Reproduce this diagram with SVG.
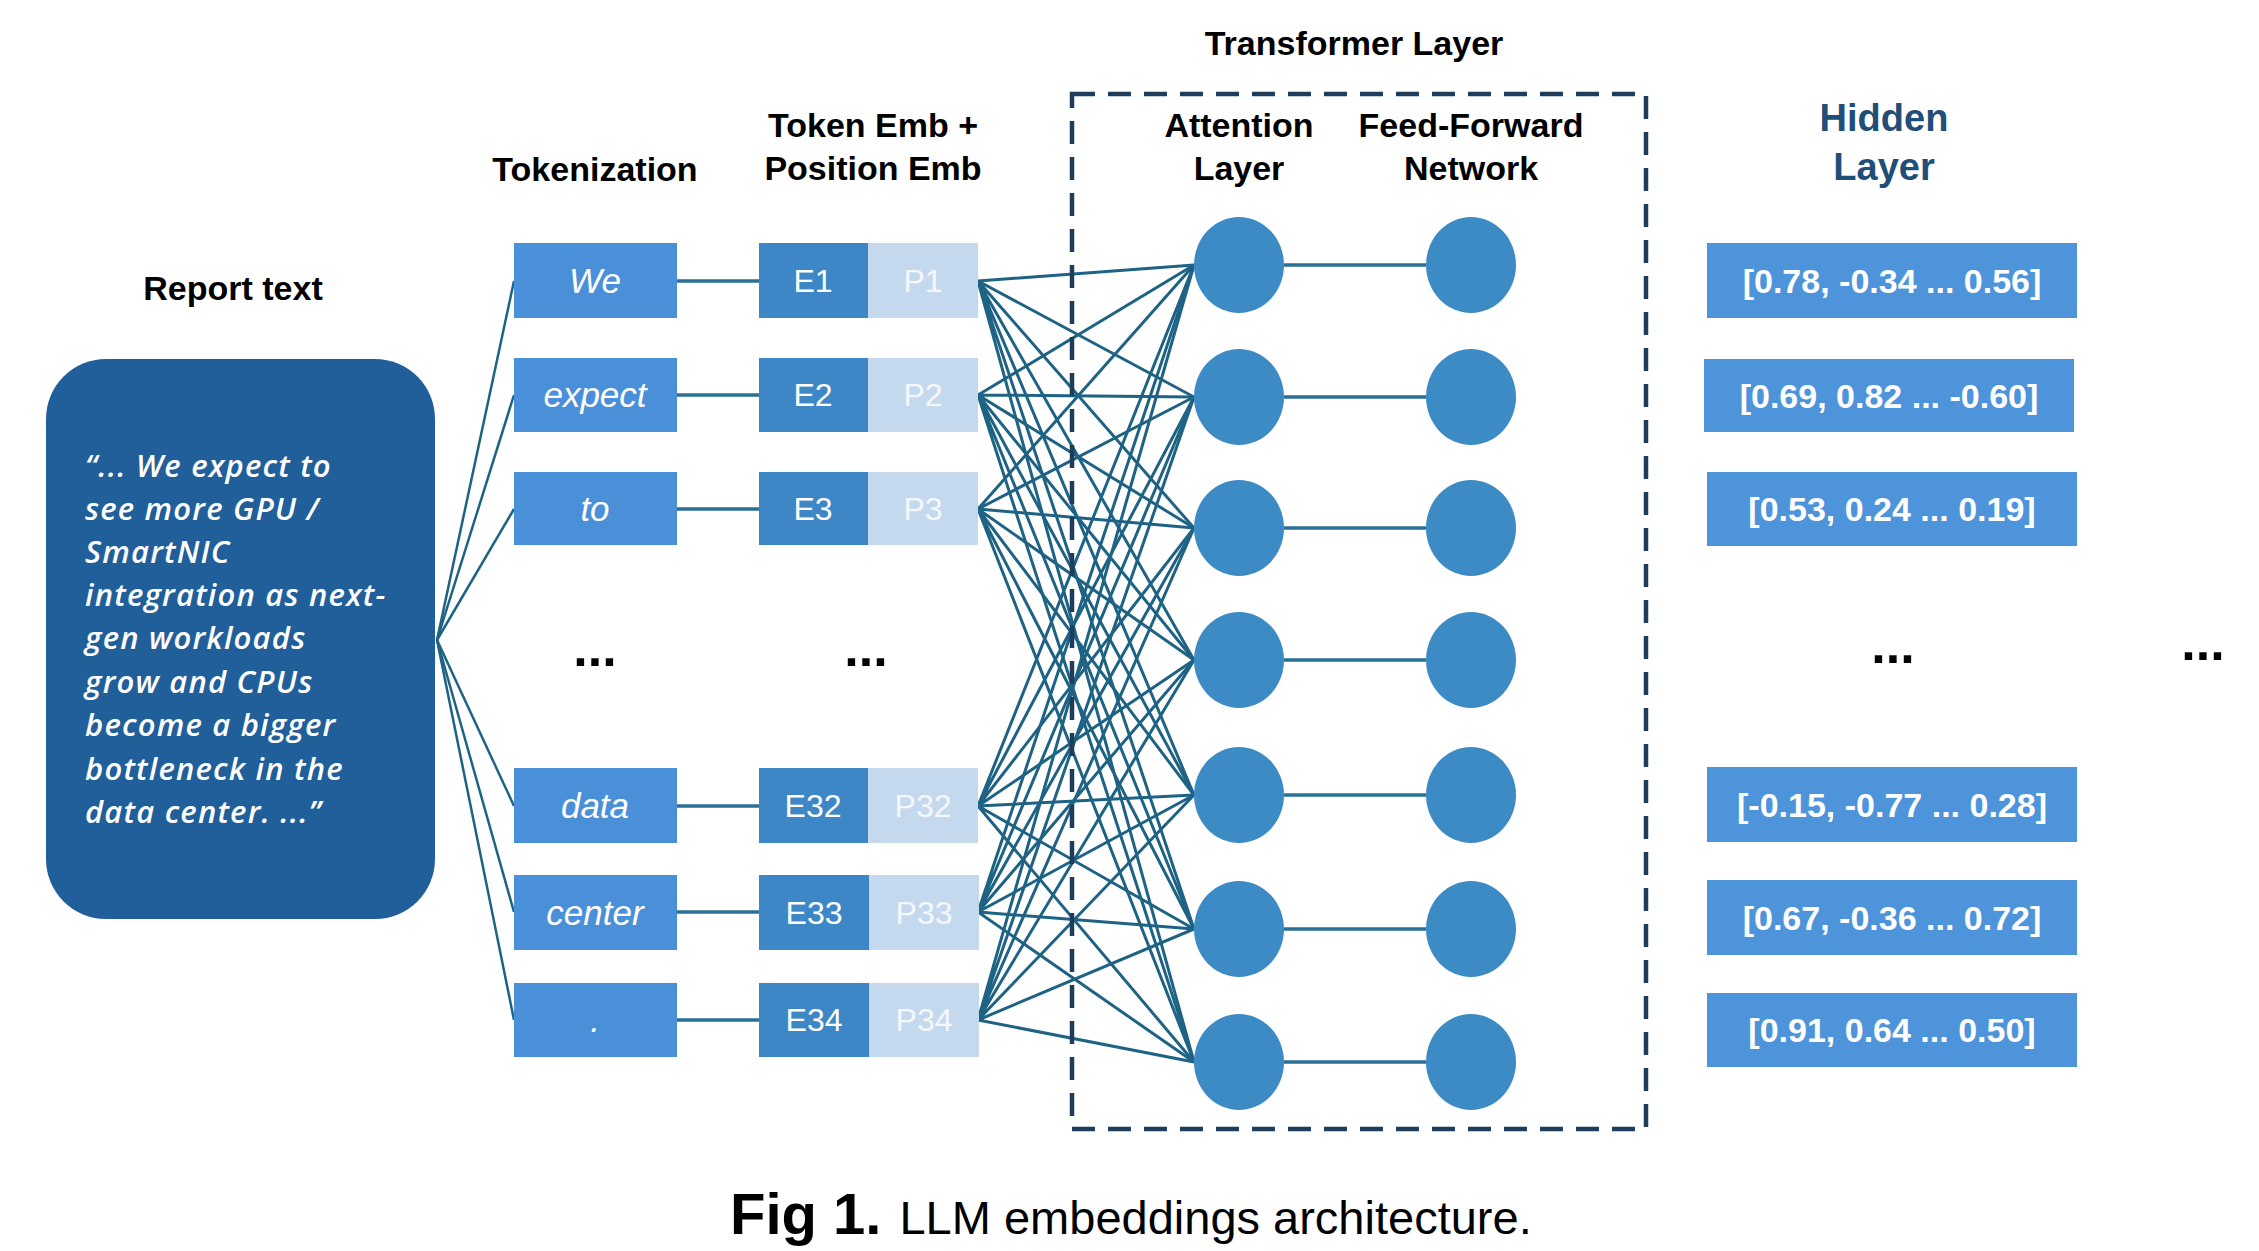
<svg xmlns="http://www.w3.org/2000/svg" width="2259" height="1251" viewBox="0 0 2259 1251">
<style>
.h{font-family:"Liberation Sans",Arial,sans-serif;font-weight:bold;font-size:34px;fill:#000;text-anchor:middle}
.hid{font-family:"Liberation Sans",Arial,sans-serif;font-weight:bold;font-size:38px;fill:#1f4e79;text-anchor:middle}
.tok{fill:#4a90d9}
.emb{fill:#3d87c6}
.pos{fill:#c5d9ee}
.tt{font-family:"Liberation Sans",Arial,sans-serif;font-style:italic;font-size:35px;fill:#fff;text-anchor:middle}
.et{font-family:"Liberation Sans",Arial,sans-serif;font-size:32px;fill:#fff;text-anchor:middle}
.pt{font-family:"Liberation Sans",Arial,sans-serif;font-size:32px;fill:#f4f8fd;text-anchor:middle}
.node{fill:#3d8bc4}
.hbox{fill:#4e94db}
.ht{font-family:"Liberation Sans",Arial,sans-serif;font-weight:bold;font-size:34px;fill:#fff;text-anchor:middle}
.dots{font-family:"Liberation Sans",Arial,sans-serif;font-weight:bold;font-size:52px;fill:#000;text-anchor:middle}
.rt{font-family:"Open Sans","Liberation Sans",sans-serif;font-style:italic;font-weight:600;font-size:31px;letter-spacing:1.2px;fill:#fff}
.c{stroke:#1f6384;stroke-width:3;fill:none}
.c2{stroke:#1f6384;stroke-width:2.5;fill:none}
.c3{stroke:#2a6f95;stroke-width:3.5;fill:none}
</style>

<g id="connectors">
  <g id="report-to-tokens" class="c2">
    <line x1="437" y1="640" x2="514" y2="281"/>
    <line x1="437" y1="640" x2="514" y2="395"/>
    <line x1="437" y1="640" x2="514" y2="509"/>
    <line x1="437" y1="640" x2="514" y2="806"/>
    <line x1="437" y1="640" x2="514" y2="912"/>
    <line x1="437" y1="640" x2="514" y2="1020"/>
  </g>
  <g id="tokens-to-emb" class="c3">
    <line x1="677" y1="281" x2="759" y2="281"/>
    <line x1="677" y1="395" x2="759" y2="395"/>
    <line x1="677" y1="509" x2="759" y2="509"/>
    <line x1="677" y1="806" x2="759" y2="806"/>
    <line x1="677" y1="912" x2="759" y2="912"/>
    <line x1="677" y1="1020" x2="759" y2="1020"/>
  </g>
  <g id="emb-to-attention" class="c">
    <path d="M978 281L1194 265M978 281L1194 397M978 281L1194 528M978 281L1194 660M978 281L1194 795M978 281L1194 929M978 281L1194 1062"/>
    <path d="M978 395L1194 265M978 395L1194 397M978 395L1194 528M978 395L1194 660M978 395L1194 795M978 395L1194 929M978 395L1194 1062"/>
    <path d="M978 509L1194 265M978 509L1194 397M978 509L1194 528M978 509L1194 660M978 509L1194 795M978 509L1194 929M978 509L1194 1062"/>
    <path d="M978 806L1194 265M978 806L1194 397M978 806L1194 528M978 806L1194 660M978 806L1194 795M978 806L1194 929M978 806L1194 1062"/>
    <path d="M978 912L1194 265M978 912L1194 397M978 912L1194 528M978 912L1194 660M978 912L1194 795M978 912L1194 929M978 912L1194 1062"/>
    <path d="M978 1020L1194 265M978 1020L1194 397M978 1020L1194 528M978 1020L1194 660M978 1020L1194 795M978 1020L1194 929M978 1020L1194 1062"/>
  </g>
  <g id="attention-to-ffn" class="c3">
    <line x1="1284" y1="265" x2="1426" y2="265"/>
    <line x1="1284" y1="397" x2="1426" y2="397"/>
    <line x1="1284" y1="528" x2="1426" y2="528"/>
    <line x1="1284" y1="660" x2="1426" y2="660"/>
    <line x1="1284" y1="795" x2="1426" y2="795"/>
    <line x1="1284" y1="929" x2="1426" y2="929"/>
    <line x1="1284" y1="1062" x2="1426" y2="1062"/>
  </g>
</g>

<g id="headings">
  <text class="h" x="1354" y="55">Transformer Layer</text>
  <text class="h" x="233" y="300">Report text</text>
  <text class="h" x="595" y="181">Tokenization</text>
  <text class="h" x="873" y="137">Token Emb +</text>
  <text class="h" x="873" y="180">Position Emb</text>
  <text class="h" x="1239" y="137">Attention</text>
  <text class="h" x="1239" y="180">Layer</text>
  <text class="h" x="1471" y="137">Feed-Forward</text>
  <text class="h" x="1471" y="180">Network</text>
  <text class="hid" x="1884" y="131">Hidden</text>
  <text class="hid" x="1884" y="180">Layer</text>
</g>

<g id="transformer-layer">
  <rect x="1072" y="94" width="574" height="1035" fill="none" stroke="#1e3d5c" stroke-width="4.5" stroke-dasharray="23 13"/>
</g>

<g id="report-text">
  <rect x="46" y="359" width="389" height="560" rx="60" ry="60" fill="#215f9b"/>
  <text class="rt" x="85" y="477">“... We expect to</text>
  <text class="rt" x="85" y="520">see more GPU /</text>
  <text class="rt" x="85" y="563">SmartNIC</text>
  <text class="rt" x="85" y="606">integration as next-</text>
  <text class="rt" x="85" y="649">gen workloads</text>
  <text class="rt" x="85" y="693">grow and CPUs</text>
  <text class="rt" x="85" y="736">become a bigger</text>
  <text class="rt" x="85" y="780">bottleneck in the</text>
  <text class="rt" x="85" y="823">data center. ...”</text>
</g>

<g id="tokens">
  <g id="tok-we"><rect class="tok" x="514" y="243" width="163" height="75"/><text class="tt" x="595" y="293">We</text></g>
  <g id="tok-expect"><rect class="tok" x="514" y="358" width="163" height="74"/><text class="tt" x="595" y="407">expect</text></g>
  <g id="tok-to"><rect class="tok" x="514" y="472" width="163" height="73"/><text class="tt" x="595" y="521">to</text></g>
  <text class="dots" x="595" y="666">...</text>
  <g id="tok-data"><rect class="tok" x="514" y="768" width="163" height="75"/><text class="tt" x="595" y="818">data</text></g>
  <g id="tok-center"><rect class="tok" x="514" y="875" width="163" height="75"/><text class="tt" x="595" y="925">center</text></g>
  <g id="tok-period"><rect class="tok" x="514" y="983" width="163" height="74"/><text class="tt" x="595" y="1032">.</text></g>
</g>

<g id="embeddings">
  <g id="emb-1"><rect class="emb" x="759" y="243" width="109" height="75"/><rect class="pos" x="868" y="243" width="110" height="75"/><text class="et" x="813" y="292">E1</text><text class="pt" x="923" y="292">P1</text></g>
  <g id="emb-2"><rect class="emb" x="759" y="358" width="109" height="74"/><rect class="pos" x="868" y="358" width="110" height="74"/><text class="et" x="813" y="406">E2</text><text class="pt" x="923" y="406">P2</text></g>
  <g id="emb-3"><rect class="emb" x="759" y="472" width="109" height="73"/><rect class="pos" x="868" y="472" width="110" height="73"/><text class="et" x="813" y="520">E3</text><text class="pt" x="923" y="520">P3</text></g>
  <text class="dots" x="866" y="666">...</text>
  <g id="emb-32"><rect class="emb" x="759" y="768" width="109" height="75"/><rect class="pos" x="868" y="768" width="110" height="75"/><text class="et" x="813" y="817">E32</text><text class="pt" x="923" y="817">P32</text></g>
  <g id="emb-33"><rect class="emb" x="759" y="875" width="110" height="75"/><rect class="pos" x="869" y="875" width="110" height="75"/><text class="et" x="814" y="924">E33</text><text class="pt" x="924" y="924">P33</text></g>
  <g id="emb-34"><rect class="emb" x="759" y="983" width="110" height="74"/><rect class="pos" x="869" y="983" width="110" height="74"/><text class="et" x="814" y="1031">E34</text><text class="pt" x="924" y="1031">P34</text></g>
</g>

<g id="attention-nodes">
  <ellipse id="att-1" class="node" cx="1239" cy="265" rx="45" ry="48"/>
  <ellipse id="att-2" class="node" cx="1239" cy="397" rx="45" ry="48"/>
  <ellipse id="att-3" class="node" cx="1239" cy="528" rx="45" ry="48"/>
  <ellipse id="att-4" class="node" cx="1239" cy="660" rx="45" ry="48"/>
  <ellipse id="att-5" class="node" cx="1239" cy="795" rx="45" ry="48"/>
  <ellipse id="att-6" class="node" cx="1239" cy="929" rx="45" ry="48"/>
  <ellipse id="att-7" class="node" cx="1239" cy="1062" rx="45" ry="48"/>
</g>

<g id="ffn-nodes">
  <ellipse id="ffn-1" class="node" cx="1471" cy="265" rx="45" ry="48"/>
  <ellipse id="ffn-2" class="node" cx="1471" cy="397" rx="45" ry="48"/>
  <ellipse id="ffn-3" class="node" cx="1471" cy="528" rx="45" ry="48"/>
  <ellipse id="ffn-4" class="node" cx="1471" cy="660" rx="45" ry="48"/>
  <ellipse id="ffn-5" class="node" cx="1471" cy="795" rx="45" ry="48"/>
  <ellipse id="ffn-6" class="node" cx="1471" cy="929" rx="45" ry="48"/>
  <ellipse id="ffn-7" class="node" cx="1471" cy="1062" rx="45" ry="48"/>
</g>

<g id="hidden-layer">
  <g id="hid-1"><rect class="hbox" x="1707" y="243" width="370" height="75"/><text class="ht" x="1892" y="293">[0.78, -0.34 ... 0.56]</text></g>
  <g id="hid-2"><rect class="hbox" x="1704" y="359" width="370" height="73"/><text class="ht" x="1889" y="408">[0.69, 0.82 ... -0.60]</text></g>
  <g id="hid-3"><rect class="hbox" x="1707" y="472" width="370" height="74"/><text class="ht" x="1892" y="521">[0.53, 0.24 ... 0.19]</text></g>
  <text class="dots" x="1893" y="663">...</text>
  <g id="hid-5"><rect class="hbox" x="1707" y="767" width="370" height="75"/><text class="ht" x="1892" y="817">[-0.15, -0.77 ... 0.28]</text></g>
  <g id="hid-6"><rect class="hbox" x="1707" y="880" width="370" height="75"/><text class="ht" x="1892" y="930">[0.67, -0.36 ... 0.72]</text></g>
  <g id="hid-7"><rect class="hbox" x="1707" y="993" width="370" height="74"/><text class="ht" x="1892" y="1042">[0.91, 0.64 ... 0.50]</text></g>
  <text class="dots" x="2203" y="660">...</text>
</g>

<g id="caption">
  <text x="730" y="1234" font-family="'Liberation Sans',Arial,sans-serif"><tspan font-weight="bold" font-size="58">Fig 1.</tspan><tspan font-size="47" dx="18">LLM embeddings architecture.</tspan></text>
</g>
</svg>
